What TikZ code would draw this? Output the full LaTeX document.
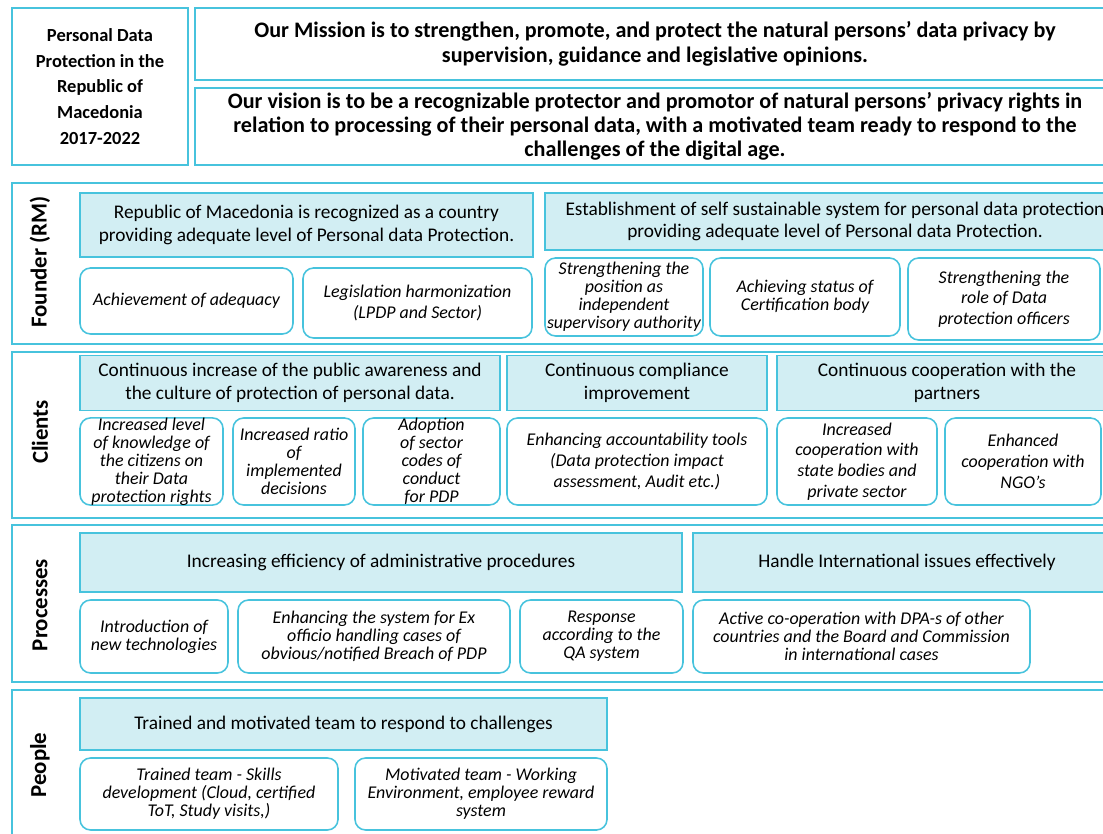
\documentclass[tikz,border=0pt]{standalone}
\usepackage{fontspec}
\setmainfont{Carlito}
\usepackage{xcolor}
\usepackage{tikz}
\usetikzlibrary{positioning}

\definecolor{pdpline}{HTML}{47C3DD}
\definecolor{pdpfill}{HTML}{D2EEF3}

\begin{document}
\begin{tikzpicture}[
  x=0.02cm, y=-0.02cm,
  boxsize/.style 2 args={minimum width=#1*0.02cm, minimum height=#2*0.02cm},
  headbox/.style={
    rectangle, draw=pdpline, line width=1.6pt, fill=white,
    align=center, inner sep=0pt,
    font=\fontsize{12.6}{13.6}\selectfont\bfseries
  },
  frame/.style={
    rectangle, draw=pdpline, line width=1.7pt, fill=white, inner sep=0pt
  },
  goal/.style={
    rectangle, draw=pdpline, line width=1.1pt, fill=pdpfill,
    align=center, inner sep=0pt,
    font=\fontsize{11}{13}\selectfont
  },
  objective/.style={
    rectangle, rounded corners=6pt, draw=pdpline, line width=0.9pt, fill=white,
    align=center, inner sep=0pt,
    font=\fontsize{10.2}{10.2}\selectfont\itshape
  },
  wide/.style={font=\fontsize{10.2}{11.8}\selectfont\itshape},
  rowlabel/.style={rotate=90, font=\fontsize{13}{14}\selectfont\bfseries}
]

\clip (0,0) rectangle (1103,834);
\fill[white] (0,0) rectangle (1103,834);

% --- Header ---
\node[headbox, boxsize={176}{157}, font=\fontsize{10.5}{14.7}\selectfont\bfseries] (title) at (100,86.5)
  {Personal Data\\Protection in the\\Republic of\\Macedonia\\2017-2022};
\node[headbox, boxsize={920}{72}, font=\fontsize{12.6}{14.2}\selectfont\bfseries] (mission) at (655,44)
  {Our Mission is to strengthen, promote, and protect the natural persons’ data privacy by\\
   supervision, guidance and legislative opinions.};
\node[headbox, boxsize={920}{77}] (vision) at (655,126.5)
  {Our vision is to be a recognizable protector and promotor of natural persons’ privacy rights in\\
   relation to processing of their personal data, with a motivated team ready to respond to the\\
   challenges of the digital age.};

% --- Founder (RM) ---
\node[frame, boxsize={1103}{161}] (founder) at (563.5,263.5) {};
\node[rowlabel] (founderlbl) at (40,262) {Founder (RM)};
\node[goal, boxsize={453}{64}] (fg1) at (306.5,225)
  {Republic of Macedonia is recognized as a country\\providing adequate level of Personal data Protection.};
\node[goal, boxsize={580}{57}] (fg2) at (835,221.5)
  {Establishment of self sustainable system for personal data protection\\providing adequate level of Personal data Protection.};
\node[objective, boxsize={213}{66}] (fo1) at (186.5,301) {Achievement of adequacy};
\node[objective, wide, boxsize={229}{70}] (fo2) at (417.5,303) {Legislation harmonization\\(LPDP and Sector)};
\node[objective, boxsize={158}{78}] (fo3) at (624,297)
  {Strengthening the\\position as\\independent\\supervisory authority};
\node[objective, boxsize={190}{78}] (fo4) at (805,297) {Achieving status of\\Certification body};
\node[objective, wide, boxsize={192}{82}] (fo5) at (1004,299) {Strengthening the\\role of Data\\protection officers};

% --- Clients ---
\node[frame, boxsize={1103}{166}] (clients) at (563.5,435) {};
\node[rowlabel] (clientslbl) at (40,432) {Clients};
\node[goal, boxsize={420}{55}] (cg1) at (290,383)
  {Continuous increase of the public awareness and\\the culture of protection of personal data.};
\node[goal, boxsize={260}{55}] (cg2) at (637,383) {Continuous compliance\\improvement};
\node[goal, boxsize={340}{55}] (cg3) at (947,383) {Continuous cooperation with the\\partners};
\node[objective, boxsize={143}{87}] (co1) at (151.5,461.5)
  {Increased level\\of knowledge of\\the citizens on\\their Data\\protection rights};
\node[objective, boxsize={122}{87}] (co2) at (294,461.5) {Increased ratio\\of\\implemented\\decisions};
\node[objective, boxsize={137}{87}] (co3) at (431.5,461.5)
  {Adoption\\of sector\\codes of\\conduct\\for PDP};
\node[objective, wide, boxsize={260}{87}] (co4) at (637,461.5)
  {Enhancing accountability tools\\(Data protection impact\\assessment, Audit etc.)};
\node[objective, wide, boxsize={160}{87}] (co5) at (857,461.5)
  {Increased\\cooperation with\\state bodies and\\private sector};
\node[objective, wide, boxsize={156}{87}] (co6) at (1023,461.5) {Enhanced\\cooperation with\\NGO’s};

% --- Processes ---
\node[frame, boxsize={1103}{157}] (processes) at (563.5,603.5) {};
\node[rowlabel] (processeslbl) at (40,605) {Processes};
\node[goal, boxsize={602}{59}] (pg1) at (381,562.5) {Increasing efficiency of administrative procedures};
\node[goal, boxsize={428}{59}] (pg2) at (907,562.5) {Handle International issues effectively};
\node[objective, boxsize={148}{73}] (po1) at (154,636.5) {Introduction of\\new technologies};
\node[objective, boxsize={272}{73}] (po2) at (374,636.5)
  {Enhancing the system for Ex\\officio handling cases of\\obvious/notified Breach of PDP};
\node[objective, boxsize={163}{73}] (po3) at (601.5,636.5) {Response\\according to the\\QA system};
\node[objective, boxsize={337}{73}] (po4) at (861.5,636.5)
  {Active co-operation with DPA-s of other\\countries and the Board and Commission\\in international cases};

% --- People ---
\node[frame, boxsize={1103}{155}] (people) at (563.5,767.5) {};
\node[rowlabel] (peoplelbl) at (40,765) {People};
\node[goal, boxsize={527}{52}] (eg1) at (343.5,724) {Trained and motivated team to respond to challenges};
\node[objective, boxsize={258}{72}] (eo1) at (209,794)
  {Trained team - Skills\\development (Cloud, certified\\ToT, Study visits,)};
\node[objective, boxsize={252}{72}] (eo2) at (481,794)
  {Motivated team - Working\\Environment, employee reward\\system};

\end{tikzpicture}
\end{document}
